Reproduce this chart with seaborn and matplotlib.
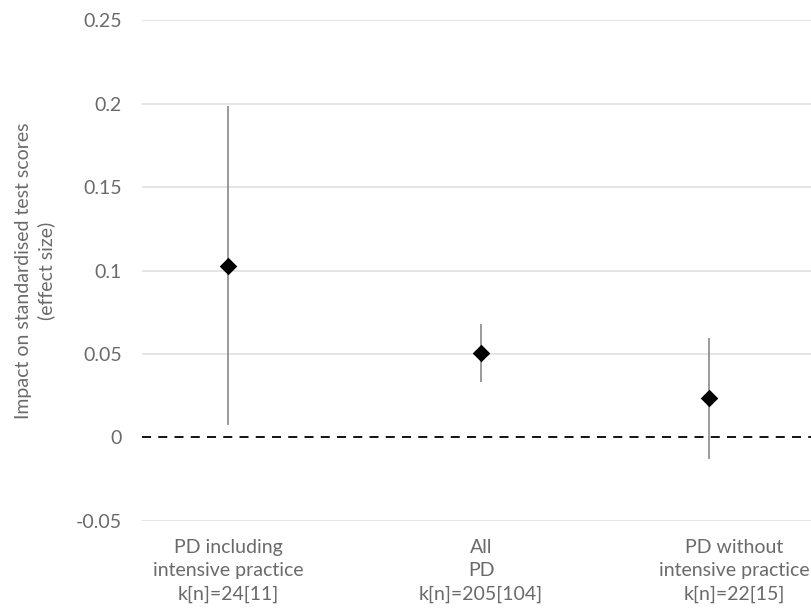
import numpy as np
import pandas as pd
import matplotlib
matplotlib.use("Agg")
import matplotlib.pyplot as plt
import seaborn as sns

# values
groups = ["PD including\nintensive practice\nk[n]=24[11]",
          "All\nPD\nk[n]=205[104]",
          "PD without\nintensive practice\nk[n]=22[15]"]
x_pos = [0, 1, 1.9]
effect = [0.1024, 0.0503, 0.0234]
ci_low = [0.0075, 0.033, -0.013]
ci_high = [0.1988, 0.0677, 0.0593]
y_ticks = [-0.05, 0, 0.05, 0.1, 0.15, 0.2, 0.25]
y_tick_labels = ["-0.05", "0", "0.05", "0.1", "0.15", "0.2", "0.25"]

df = pd.DataFrame({"x": x_pos, "effect": effect, "lo": ci_low, "hi": ci_high})

sns.set_style("white")
plt.rcParams["font.family"] = ["Lato", "DejaVu Sans"]
text_col = "#6a6a6a"
fs = 14

fig = plt.figure(figsize=(8.11, 6.12), dpi=100)
ax = fig.add_axes([0.175, 0.149, 0.825, 0.818])

# grid lines
for t in y_ticks:
    if t != 0:
        ax.axhline(t, color="#e0e0e0", lw=1.2, zorder=0)
ax.axhline(0, color="black", lw=1.3, ls=(0, (5, 4)), zorder=1)

# confidence intervals
ax.vlines(df["x"], df["lo"], df["hi"], color="#7f7f7f", lw=1.1, zorder=2)

sns.scatterplot(data=df, x="x", y="effect", marker="D", s=80, color="black",
                edgecolor="black", linewidth=0, ax=ax, zorder=3)

ax.set_xlim(-0.34, 2.304)
ax.set_ylim(-0.05, 0.25)
ax.set_xticks([0, 1, 2])
ax.set_xticklabels(groups, fontsize=fs, color=text_col, linespacing=1.45)
ax.set_yticks(y_ticks)
ax.set_yticklabels(y_tick_labels, fontsize=fs, color=text_col)
ax.tick_params(axis="x", length=0, pad=13)
ax.tick_params(axis="y", length=0, pad=14.5)
ax.set_xlabel("")
ax.set_ylabel("Impact on standardised test scores\n(effect size)", fontsize=fs,
              color=text_col, labelpad=15, linespacing=1.3)
sns.despine(ax=ax, left=True, bottom=True)

fig.savefig("out.png", dpi=100)
